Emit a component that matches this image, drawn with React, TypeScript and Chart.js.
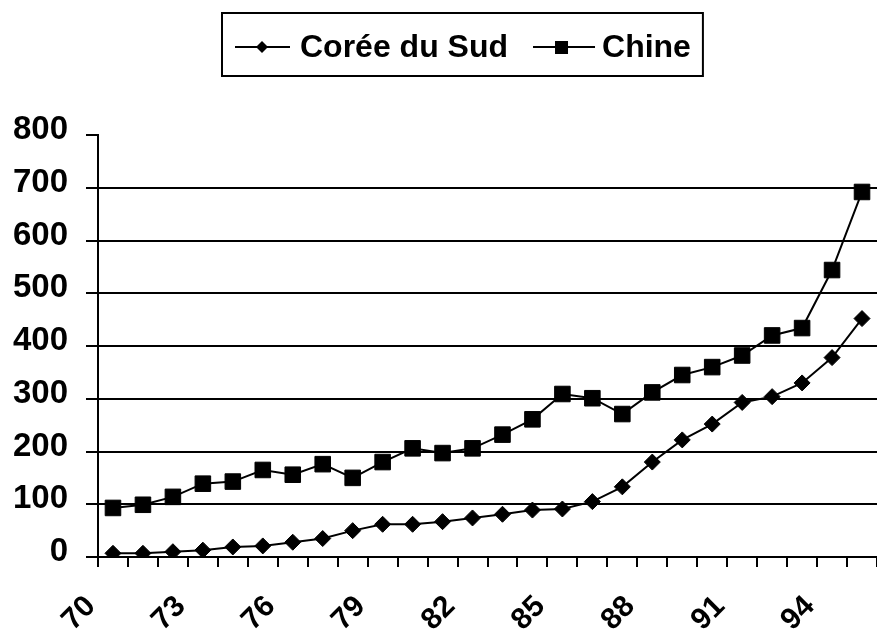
import React, { useEffect, useRef } from 'react';
import { Chart, registerables } from 'chart.js';

Chart.register(...registerables);

const years = ['70', '71', '72', '73', '74', '75', '76', '77', '78', '79', '80', '81', '82', '83', '84', '85', '86', '87', '88', '89', '90', '91', '92', '93', '94', '95'];
const shownYearLabels = ['70', '73', '76', '79', '82', '85', '88', '91', '94'];
const koreaValues = [7, 7, 10, 13, 19, 21, 28, 35, 50, 62, 62, 67, 74, 81, 89, 91, 105, 133, 180, 222, 252, 293, 304, 330, 378, 452];
const chinaValues = [93, 99, 114, 139, 143, 165, 156, 176, 150, 180, 206, 197, 206, 232, 261, 309, 301, 271, 312, 345, 360, 382, 420, 434, 544, 692];
const seriesNames = ['Corée du Sud', 'Chine'];
const yMin = 0;
const yMax = 800;
const yStep = 100;

const FONT = "'Liberation Sans', Arial, sans-serif";

const drawDiamond = (ctx: CanvasRenderingContext2D, x: number, y: number, r: number) => {
  ctx.beginPath();
  ctx.moveTo(x, y - r);
  ctx.lineTo(x + r, y);
  ctx.lineTo(x, y + r);
  ctx.lineTo(x - r, y);
  ctx.closePath();
  ctx.fill();
};

const boxLegend = {
  id: 'boxLegend',
  afterDraw(chart: any) {
    const ctx: CanvasRenderingContext2D = chart.ctx;
    ctx.save();
    ctx.font = `bold 32px ${FONT}`;
    ctx.fillStyle = '#000';
    ctx.strokeStyle = '#000';
    ctx.textBaseline = 'middle';
    const cy = 47;
    const left = 222;
    const w1 = ctx.measureText(seriesNames[0]).width;
    const w2 = ctx.measureText(seriesNames[1]).width;
    ctx.lineWidth = 2;
    ctx.beginPath();
    ctx.moveTo(left + 13, cy);
    ctx.lineTo(left + 68, cy);
    ctx.stroke();
    drawDiamond(ctx, left + 40, cy, 6);
    const t1 = left + 78;
    ctx.fillText(seriesNames[0], t1, cy + 1);
    const l2 = t1 + w1 + 25;
    ctx.beginPath();
    ctx.moveTo(l2, cy);
    ctx.lineTo(l2 + 62, cy);
    ctx.stroke();
    ctx.fillRect(l2 + 22, cy - 6, 13, 13);
    const t2 = l2 + 69;
    ctx.fillText(seriesNames[1], t2, cy + 1);
    const right = t2 + w2 + 12;
    ctx.lineWidth = 2;
    ctx.strokeRect(left, 13, right - left, 63);
    ctx.restore();
  },
};

export default function App() {
  const canvasRef = useRef<HTMLCanvasElement | null>(null);

  useEffect(() => {
    const canvas = canvasRef.current;
    if (!canvas) return;
    const chart = new Chart(canvas, {
      type: 'line',
      data: {
        labels: years,
        datasets: [
          {
            label: seriesNames[0],
            data: koreaValues,
            borderColor: '#000',
            backgroundColor: '#000',
            borderWidth: 2,
            pointStyle: 'rectRot',
            pointRadius: 8,
            pointBorderWidth: 1,
            pointBackgroundColor: '#000',
            pointBorderColor: '#000',
            tension: 0,
          },
          {
            label: seriesNames[1],
            data: chinaValues,
            borderColor: '#000',
            backgroundColor: '#000',
            borderWidth: 2,
            pointStyle: 'rect',
            pointRadius: 11,
            pointBorderWidth: 1,
            pointBackgroundColor: '#000',
            pointBorderColor: '#000',
            tension: 0,
          },
        ],
      },
      options: {
        animation: false,
        responsive: false,
        devicePixelRatio: 1,
        layout: { autoPadding: false, padding: { top: 135, left: 0, right: 0, bottom: 0 } },
        plugins: {
          legend: { display: false },
          tooltip: { enabled: false },
        },
        scales: {
          x: {
            offset: true,
            grid: {
              offset: true,
              drawOnChartArea: false,
              drawTicks: true,
              tickLength: 10,
              color: '#000',
              lineWidth: 2,
            },
            border: { display: true, color: '#000', width: 2 },
            ticks: {
              autoSkip: false,
              minRotation: 45,
              maxRotation: 45,
              color: '#000',
              font: { family: FONT, weight: 'bold', size: 30 },
              padding: 22,
              labelOffset: -22,
              callback: (_v: any, i: number) => (shownYearLabels.includes(years[i]) ? years[i] : ''),
            },
            afterFit: (s: any) => {
              s.height = 79;
              s.paddingLeft = 0;
              s.paddingRight = 0;
            },
          },
          y: {
            min: yMin,
            max: yMax,
            grid: {
              color: (c: any) => (c.tick && c.tick.value === yMax ? 'rgba(0,0,0,0)' : '#000'),
              tickColor: '#000',
              lineWidth: 2,
              tickLength: 12,
            },
            border: { display: true, color: '#000', width: 2 },
            ticks: {
              stepSize: yStep,
              color: '#000',
              font: { family: FONT, weight: 'bold', size: 33 },
              padding: 18,
              labelOffset: -5,
            },
            afterFit: (s: any) => {
              s.width = 98;
              s.paddingTop = 0;
              s.paddingBottom = 0;
            },
          },
        },
      },
      plugins: [boxLegend],
    });
    return () => chart.destroy();
  }, []);

  return (
    <div style={{ position: 'absolute', left: 0, top: 0, width: 877, height: 636, background: '#fff' }}>
      <canvas ref={canvasRef} width={877} height={636} style={{ width: 877, height: 636, display: 'block' }} />
    </div>
  );
}
